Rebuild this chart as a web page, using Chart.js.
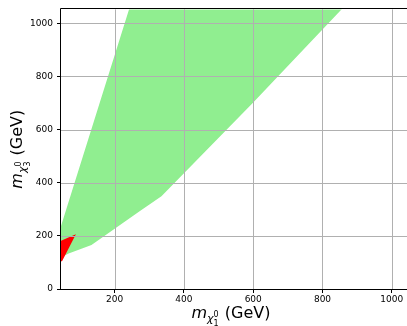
<!DOCTYPE html>
<html>
<head>
<meta charset="utf-8">
<script src="https://cdn.jsdelivr.net/npm/chart.js@4"></script>
<style>
  html, body { margin: 0; padding: 0; background: #fff; }
  #wrap { width: 407px; height: 326px; }
</style>
</head>
<body>
<div id="wrap"><canvas id="chart" width="407" height="326"></canvas></div>
<script>
// allowed region (green polygon)
const greenX = [45, 253, 890, 600, 335, 272, 133, 67, 47, 45];
const greenY = [237, 1100, 1100, 702, 349, 293, 166, 134, 120, 180];

// excluded corner (red triangle)
const redX = [88, 40, 40, 48];
const redY = [206, 179, 104, 104];

const xTicks = [200, 400, 600, 800, 1000];
const yTicks = [0, 200, 400, 600, 800, 1000];
const xRange = [45, 1044];
const yRange = [0, 1052];

const tickFont = { family: '"DejaVu Sans", sans-serif', size: 9 };

// close the polygon by repeating the first point
const toPoints = (xs, ys) => {
  const pts = xs.map((x, i) => ({ x: x, y: ys[i] }));
  pts.push({ x: xs[0], y: ys[0] });
  return pts;
};

// draws "m_{chi_n^0} (GeV)" centred on the current origin, baseline at 0
function drawMassLabel(ctx, n) {
  const fam = '"DejaVu Sans", sans-serif';
  ctx.textBaseline = 'alphabetic';
  ctx.textAlign = 'left';
  ctx.font = 'italic 16px ' + fam;
  const wm = ctx.measureText('m').width;
  ctx.font = 'italic 11px ' + fam;
  const wc = ctx.measureText('\u03C7').width;
  ctx.font = '8px ' + fam;
  const ws = Math.max(ctx.measureText('0').width, ctx.measureText(n).width);
  ctx.font = '16px ' + fam;
  const wg = ctx.measureText(' (GeV)').width;
  const total = wm + wc + ws + 1 + wg;
  let x = -total / 2;
  ctx.fillStyle = '#000';
  ctx.font = 'italic 16px ' + fam;
  ctx.fillText('m', x, 0);
  x += wm;
  ctx.font = 'italic 11px ' + fam;
  ctx.fillText('\u03C7', x, 3.5);
  x += wc;
  ctx.font = '8px ' + fam;
  ctx.fillText('0', x, -1.5);
  ctx.fillText(n, x, 7.5);
  x += ws + 1;
  ctx.font = '16px ' + fam;
  ctx.fillText(' (GeV)', x, 0);
}

// grid on top of the filled regions, spines, and axis titles
const framePlugin = {
  id: 'frame',
  afterDatasetsDraw(chart) {
    const { ctx, chartArea: a, scales } = chart;
    ctx.save();
    ctx.strokeStyle = '#b0b0b0';
    ctx.lineWidth = 1;
    xTicks.forEach(v => {
      const px = Math.round(scales.x.getPixelForValue(v)) + 0.5;
      if (px <= a.left + 1 || px >= a.right - 1) return;
      ctx.beginPath(); ctx.moveTo(px, a.top); ctx.lineTo(px, a.bottom); ctx.stroke();
    });
    yTicks.forEach(v => {
      const py = Math.round(scales.y.getPixelForValue(v)) + 0.5;
      if (py <= a.top + 1 || py >= a.bottom - 1) return;
      ctx.beginPath(); ctx.moveTo(a.left, py); ctx.lineTo(a.right, py); ctx.stroke();
    });
    ctx.strokeStyle = '#000';
    ctx.beginPath();
    ctx.moveTo(a.right, Math.round(a.top) - 0.5);
    ctx.lineTo(Math.round(a.left) - 0.5, Math.round(a.top) - 0.5);
    ctx.lineTo(Math.round(a.left) - 0.5, Math.round(a.bottom) + 0.5);
    ctx.lineTo(a.right, Math.round(a.bottom) + 0.5);
    ctx.stroke();
    ctx.restore();
  },
  afterDraw(chart) {
    const { ctx, chartArea: a } = chart;
    ctx.save();
    ctx.translate((a.left + a.right) / 2 - 3, 318);
    drawMassLabel(ctx, '1');
    ctx.restore();
    ctx.save();
    ctx.translate(22, (a.top + a.bottom) / 2);
    ctx.rotate(-Math.PI / 2);
    drawMassLabel(ctx, '3');
    ctx.restore();
  }
};

const ctx = document.getElementById('chart').getContext('2d');
new Chart(ctx, {
  type: 'line',
  data: {
    datasets: [
      {
        data: toPoints(redX, redY),
        backgroundColor: '#ff0000',
        borderColor: 'rgba(0,0,0,0)',
        borderWidth: 0,
        pointRadius: 0,
        tension: 0,
        fill: 'shape'
      },
      {
        data: toPoints(greenX, greenY),
        backgroundColor: '#90ee90',
        borderColor: 'rgba(0,0,0,0)',
        borderWidth: 0,
        pointRadius: 0,
        tension: 0,
        fill: 'shape'
      }
    ]
  },
  options: {
    responsive: false,
    animation: false,
    events: [],
    layout: { padding: { top: 6, left: 0, right: 0, bottom: 0 } },
    plugins: {
      legend: { display: false },
      tooltip: { enabled: false }
    },
    scales: {
      x: {
        type: 'linear',
        min: xRange[0],
        max: xRange[1],
        afterBuildTicks: s => { s.ticks = xTicks.map(v => ({ value: v })); },
        afterFit: s => { s.height = 37; },
        grid: { color: 'rgba(0,0,0,0)', tickColor: '#000', tickLength: 4 },
        border: { display: false },
        ticks: { font: tickFont, color: '#000', padding: 1, maxRotation: 0, callback: v => String(v) }
      },
      y: {
        type: 'linear',
        min: yRange[0],
        max: yRange[1],
        afterBuildTicks: s => { s.ticks = yTicks.map(v => ({ value: v })); },
        afterFit: s => { s.width = 61; },
        grid: { color: 'rgba(0,0,0,0)', tickColor: '#000', tickLength: 4 },
        border: { display: false },
        ticks: { font: tickFont, color: '#000', padding: 4, callback: v => String(v) }
      }
    }
  },
  plugins: [framePlugin]
});
</script>
</body>
</html>
